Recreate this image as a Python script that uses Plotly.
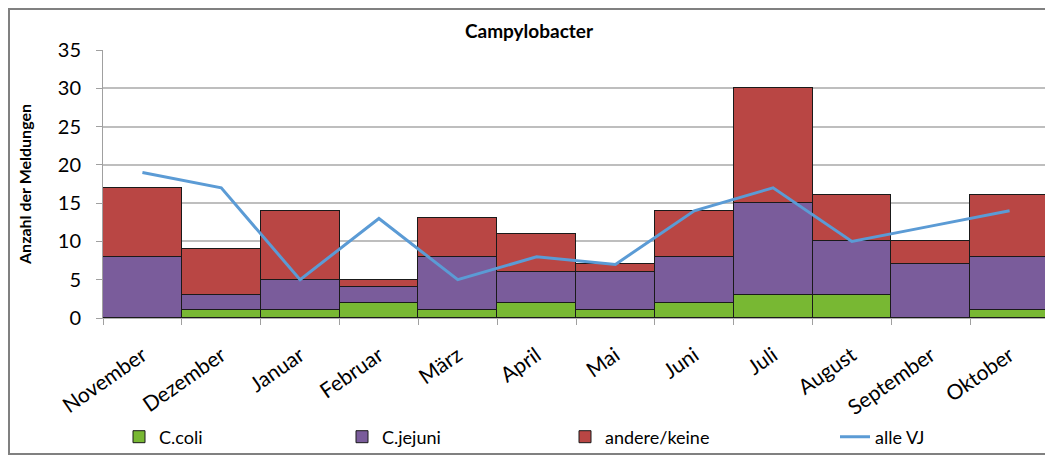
"""Campylobacter reports per month, stacked by species, with previous-year line."""
import plotly.graph_objects as go

months = ["November", "Dezember", "Januar", "Februar", "März", "April",
          "Mai", "Juni", "Juli", "August", "September", "Oktober"]
c_coli = [0, 1, 1, 2, 1, 2, 1, 2, 3, 3, 0, 1]
c_jejuni = [8, 2, 4, 2, 7, 4, 5, 6, 12, 7, 7, 7]
andere_keine = [9, 6, 9, 1, 5, 5, 1, 6, 15, 6, 3, 8]
alle_vj = [19, 17, 5, 13, 5, 8, 7, 14, 17, 10, 12, 14]
y_ticks = [0, 5, 10, 15, 20, 25, 30, 35]

FONT = "Lato, Noto Sans, sans-serif"
outline = dict(color="#1a1a1a", width=1)

# the page body adds an 8px margin, so the figure is sized to the inner frame
W, H = 1042, 447
L, R, T, B = 95, 1, 42, 137
PW, PH = W - L - R, H - T - B

fig = go.Figure()
for name, values, colour in [
    ("C.coli", c_coli, "#78B833"),
    ("C.jejuni", c_jejuni, "#7A5C9B"),
    ("andere/keine", andere_keine, "#B94644"),
]:
    fig.add_trace(go.Bar(x=months, y=values, name=name,
                         marker=dict(color=colour, line=outline)))

fig.add_trace(go.Scatter(x=months, y=alle_vj, name="alle VJ", mode="lines",
                         line=dict(color="#5B9BD5", width=3),
                         legend="legend2"))

legend_font = dict(size=18, family=FONT)
no_bg = "rgba(0,0,0,0)"
fig.update_layout(
    width=W, height=H,
    barmode="stack", bargap=0,
    plot_bgcolor="white", paper_bgcolor="white",
    margin=dict(l=L, r=R, t=T, b=B, autoexpand=False),
    font=dict(family=FONT, size=15, color="black"),
    title=dict(text="<b>Campylobacter</b>", x=0.5, xanchor="center",
               y=1 - 23 / H, yanchor="middle",
               font=dict(size=19, family=FONT)),
    legend=dict(orientation="h", x=16 / PW, xanchor="left",
                y=-119 / PH, yanchor="middle", bgcolor=no_bg,
                entrywidth=178, traceorder="normal", font=legend_font),
    legend2=dict(orientation="h", x=732 / PW, xanchor="left",
                 y=-119 / PH, yanchor="middle", bgcolor=no_bg,
                 font=legend_font),
    showlegend=True,
    shapes=[dict(type="rect", xref="paper", yref="paper",
                 x0=-(L - 1) / PW, x1=(PW + R - 1) / PW,
                 y0=-(B - 1) / PH, y1=(PH + T - 1) / PH,
                 line=dict(color="#808080", width=2), layer="below")],
)

fig.update_xaxes(
    type="category", tickangle=-35, tickson="boundaries",
    ticks="outside", ticklen=6, tickcolor="#A0A0A0",
    showline=True, linecolor="#B0B0B0", linewidth=1,
    tickfont=dict(size=21, family=FONT), ticklabelstandoff=16,
    automargin=False,
)
fig.update_yaxes(
    range=[0, 35], tickvals=y_ticks,
    ticks="outside", ticklen=6, tickcolor="#A0A0A0",
    showline=True, linecolor="#A0A0A0", linewidth=1,
    showgrid=True, gridcolor="#BEBEBE", gridwidth=1.5,
    tickfont=dict(size=20, family=FONT), ticklabelstandoff=11,
    title=dict(text="<b>Anzahl der Meldungen</b>", standoff=22,
               font=dict(size=16, family=FONT)),
    zeroline=False, automargin=False,
)

fig.write_html("out.html")
